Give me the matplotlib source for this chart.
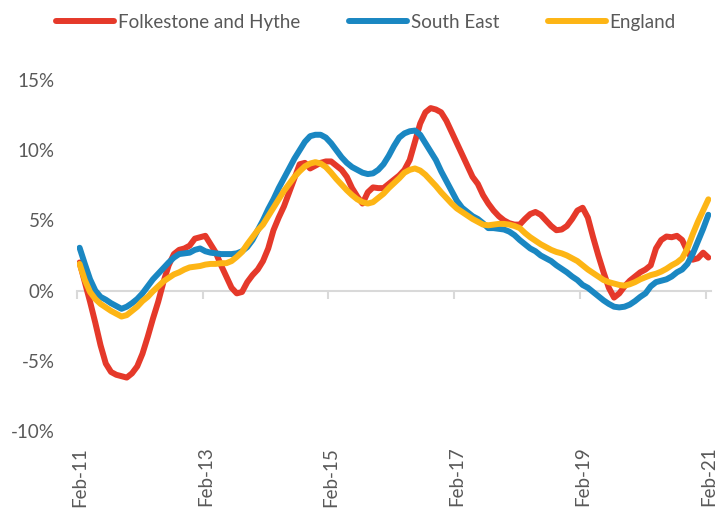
import matplotlib
matplotlib.use("Agg")
import matplotlib.pyplot as plt
import matplotlib.transforms as mtransforms

plt.rcParams['font.family'] = ['Lato', 'DejaVu Sans']

# monthly house price change (%), Feb-11 .. Feb-21
folkestone = [
    2.0, 0.6, -0.8, -2.3, -3.9, -5.2, -5.8, -6.0, -6.1, -6.2,
    -5.9, -5.4, -4.5, -3.3, -2.0, -0.8, 0.6, 1.8, 2.6, 2.9,
    3.0, 3.2, 3.7, 3.8, 3.9, 3.3, 2.7, 1.8, 1.0, 0.2,
    -0.2, -0.1, 0.6, 1.1, 1.5, 2.1, 3.0, 4.3, 5.2, 6.0,
    7.0, 8.0, 9.0, 9.1, 8.7, 8.9, 9.1, 9.2, 9.2, 8.9,
    8.6, 8.1, 7.3, 6.7, 6.2, 7.0, 7.35, 7.3, 7.3, 7.6,
    7.9, 8.2, 8.6, 9.3, 10.6, 11.9, 12.7, 13.0, 12.9, 12.7,
    12.1, 11.3, 10.5, 9.7, 8.9, 8.1, 7.6, 6.8, 6.2, 5.7,
    5.3, 5.0, 4.8, 4.7, 4.7, 5.1, 5.45, 5.6, 5.4, 5.0,
    4.6, 4.3, 4.35, 4.6, 5.1, 5.7, 5.9, 5.2, 3.8, 2.5,
    1.3, 0.2, -0.5, -0.2, 0.3, 0.7, 1.0, 1.3, 1.5, 1.8,
    3.0, 3.6, 3.85, 3.8, 3.9, 3.6, 2.8, 2.2, 2.3, 2.7,
    2.35,
]
south_east = [
    3.05, 1.9, 0.8, 0.0, -0.45, -0.65, -0.9, -1.1, -1.3, -1.15,
    -0.9, -0.6, -0.2, 0.3, 0.8, 1.2, 1.6, 2.0, 2.35, 2.6,
    2.65, 2.7, 2.9, 3.0, 2.8, 2.7, 2.65, 2.6, 2.6, 2.6,
    2.65, 2.8, 3.1, 3.6, 4.3, 5.0, 5.8, 6.5, 7.3, 8.0,
    8.7, 9.4, 10.0, 10.6, 11.0, 11.1, 11.1, 10.9, 10.5, 10.0,
    9.5, 9.1, 8.8, 8.6, 8.4, 8.3, 8.35, 8.6, 9.0, 9.6,
    10.3, 10.9, 11.2, 11.35, 11.4, 11.1, 10.5, 9.9, 9.3, 8.5,
    7.8, 7.1, 6.4, 5.9, 5.6, 5.3, 5.1, 4.8, 4.45, 4.45,
    4.4, 4.35, 4.2, 3.95, 3.6, 3.3, 3.0, 2.8, 2.5, 2.3,
    2.1, 1.8, 1.55, 1.3, 1.0, 0.75, 0.4, 0.2, -0.1, -0.4,
    -0.7, -0.95, -1.15, -1.2, -1.15, -1.0, -0.75, -0.45, -0.2, 0.3,
    0.6, 0.7, 0.8, 1.0, 1.3, 1.5, 1.9, 2.6, 3.5, 4.4,
    5.4,
]
england = [
    1.9, 0.75, -0.1, -0.6, -0.95, -1.2, -1.45, -1.65, -1.85, -1.75,
    -1.45, -1.15, -0.75, -0.45, -0.05, 0.3, 0.65, 0.9, 1.15, 1.3,
    1.5, 1.65, 1.7, 1.75, 1.85, 1.9, 1.9, 1.95, 1.95, 2.1,
    2.4, 2.75, 3.3, 3.8, 4.3, 4.7, 5.3, 5.9, 6.5, 7.1,
    7.6, 8.1, 8.5, 8.85, 9.05, 9.15, 9.05, 8.8, 8.4, 7.95,
    7.55, 7.15, 6.8, 6.5, 6.3, 6.2, 6.3, 6.6, 6.9, 7.3,
    7.65, 8.0, 8.4, 8.6, 8.7, 8.55, 8.25, 7.85, 7.45, 7.0,
    6.6, 6.2, 5.85, 5.6, 5.35, 5.1, 4.9, 4.7, 4.65, 4.7,
    4.75, 4.75, 4.7, 4.6, 4.45, 4.1, 3.8, 3.55, 3.3, 3.1,
    2.9, 2.75, 2.65, 2.5, 2.3, 2.1, 1.8, 1.5, 1.25, 1.0,
    0.75, 0.6, 0.5, 0.4, 0.35, 0.45, 0.6, 0.8, 0.95, 1.1,
    1.2, 1.35, 1.55, 1.8, 2.0, 2.3, 3.0, 4.0, 4.9, 5.7,
    6.5,
]
label_months = [0, 24, 48, 72, 96, 120]
month_labels = ['Feb-11', 'Feb-13', 'Feb-15', 'Feb-17', 'Feb-19', 'Feb-21']
y_ticks = [-10, -5, 0, 5, 10, 15]

months = list(range(len(folkestone)))
text_col = '#595959'

fig = plt.figure(figsize=(7.16, 5.13), dpi=100)
ax = fig.add_axes([0.1075, 0.16, 0.8855, 0.684])

lw = 4.3
ax.plot(months, folkestone, color='#E5392A', lw=lw, label='Folkestone and Hythe', solid_capstyle='round')
ax.plot(months, south_east, color='#1A87C2', lw=lw, label='South East', solid_capstyle='round')
ax.plot(months, england, color='#FDB515', lw=lw, label='England', solid_capstyle='round')

ax.set_xlim(-0.5, len(months) - 0.5)
ax.set_ylim(-10, 15)

for s in ['top', 'right', 'left']:
    ax.spines[s].set_visible(False)
ax.spines['bottom'].set_position(('data', 0))
ax.spines['bottom'].set_color('#D9D9D9')
ax.spines['bottom'].set_linewidth(1.5)
ax.spines['bottom'].set_zorder(0)

ax.set_xticks([m - 0.5 for m in label_months])
ax.tick_params(axis='x', direction='out', length=6, width=1.5, color='#D9D9D9', labelbottom=False)

ax.set_yticks(y_ticks)
ax.set_yticklabels([f'{v}%' for v in y_ticks])
ax.tick_params(axis='y', length=0, pad=16, labelsize=13.5, labelcolor=text_col)

trans = mtransforms.blended_transform_factory(ax.transData, ax.transAxes)
for m, lab in zip(label_months, month_labels):
    ax.text(m, -0.045, lab, transform=trans, rotation=90, ha='center', va='top',
            fontsize=13.5, color=text_col)

fig.legend(loc='center', bbox_to_anchor=(0.511, 0.957), ncol=3, frameon=False,
           fontsize=13.5, labelcolor=text_col, handlelength=3.1, handletextpad=0.2,
           columnspacing=2.6)

fig.savefig('out.png', dpi=100)
